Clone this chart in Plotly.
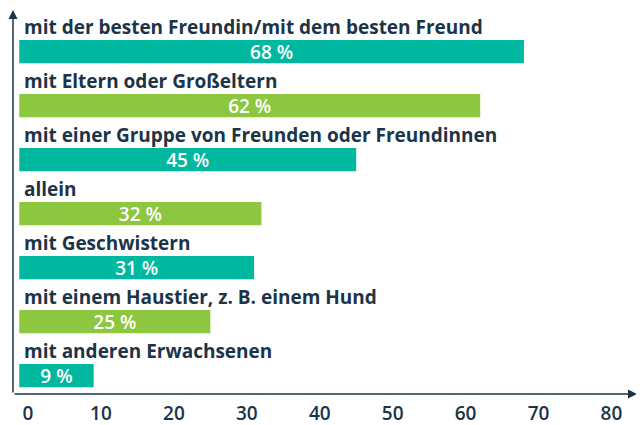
import plotly.graph_objects as go

categories = [
    "mit der besten Freundin/mit dem besten Freund",
    "mit Eltern oder Großeltern",
    "mit einer Gruppe von Freunden oder Freundinnen",
    "allein",
    "mit Geschwistern",
    "mit einem Haustier, z. B. einem Hund",
    "mit anderen Erwachsenen",
]
values = [68, 62, 45, 32, 31, 25, 9]
tick_values = [0, 10, 20, 30, 40, 50, 60, 70, 80]
tick_labels = ["0", "10", "20", "30", "40", "50", "60", "70", "80"]

TEAL = "#00B8A0"
GREEN = "#8DC63F"
NAVY = "#1B3447"
FONT = "Open Sans"
BAR_BASE = -1.2

colors = [TEAL if i % 2 == 0 else GREEN for i in range(len(values))]
rows = list(range(len(values)))

fig = go.Figure()
fig.add_trace(go.Bar(
    x=[v - BAR_BASE for v in values],
    base=BAR_BASE,
    y=rows,
    orientation="h",
    width=0.43,
    marker=dict(color=colors, line=dict(width=0)),
    text=[f"{v} %" for v in values],
    textposition="inside",
    insidetextanchor="middle",
    textangle=0,
    constraintext="none",
    textfont=dict(family=FONT, size=19, color="white", weight=600),
    hoverinfo="skip",
))

for i, c in enumerate(categories):
    fig.add_annotation(
        x=0, y=i, xref="x", yref="y",
        text=c, showarrow=False,
        xanchor="left", yanchor="middle",
        xshift=-6, yshift=24.5,
        font=dict(family=FONT, size=19, color=NAVY, weight="bold"),
    )

# axis arrows
fig.add_annotation(x=1, y=0, xref="paper", yref="paper", ax=-624, ay=0,
                   text="", showarrow=True, arrowhead=2, arrowsize=1.2,
                   arrowwidth=1.5, arrowcolor=NAVY)
fig.add_annotation(x=0, y=1, xref="paper", yref="paper", ax=0, ay=384,
                   text="", showarrow=True, arrowhead=2, arrowsize=1.2,
                   arrowwidth=1.5, arrowcolor=NAVY)

fig.update_layout(
    width=636, height=417,
    margin=dict(l=5, r=7, t=2, b=31, autoexpand=False),
    plot_bgcolor="white", paper_bgcolor="white",
    showlegend=False,
    xaxis=dict(
        range=[-2.06, 83.5],
        tickvals=tick_values, ticktext=tick_labels,
        showgrid=False, zeroline=False, showline=False,
        ticks="outside", ticklen=2, tickcolor="rgba(0,0,0,0)",
        tickfont=dict(family=FONT, size=19, color=NAVY, weight=600),
        automargin=False,
        fixedrange=True,
    ),
    yaxis=dict(
        range=[6.34, -0.77],
        showticklabels=False, showgrid=False, zeroline=False, showline=False,
        automargin=False,
        fixedrange=True,
    ),
)

fig.write_html("out.html")
